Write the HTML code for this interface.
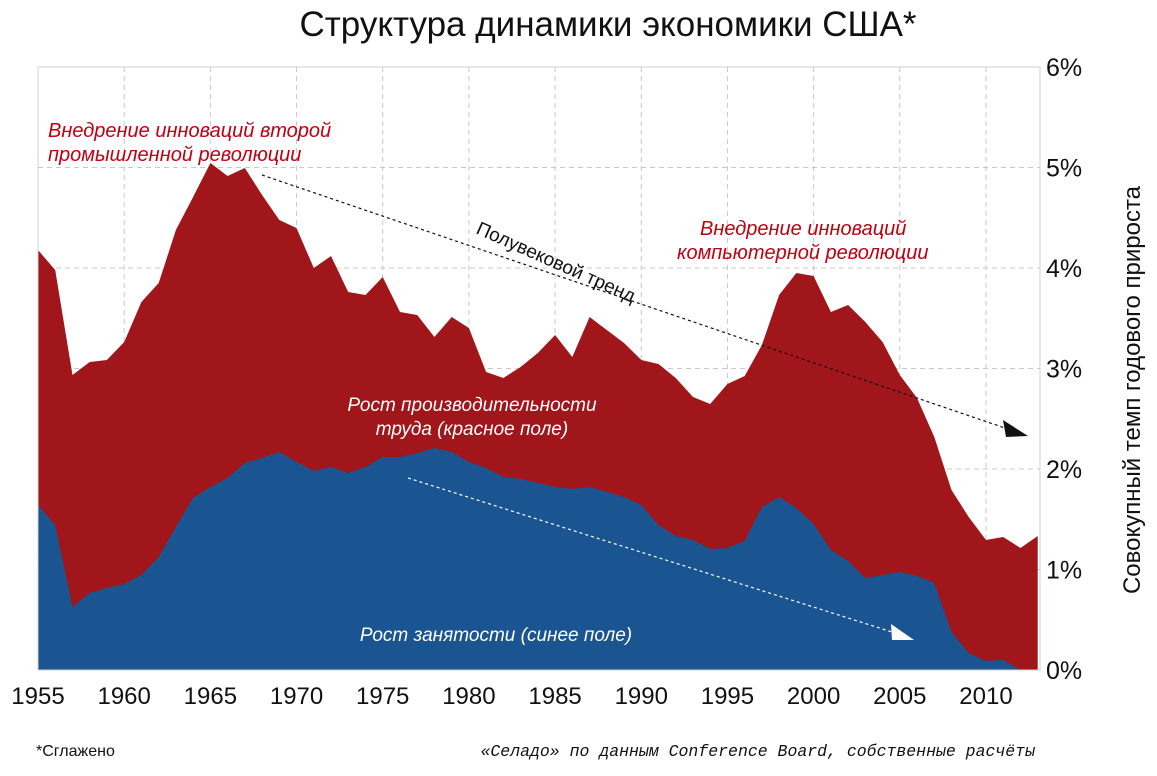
<!DOCTYPE html>
<html><head><meta charset="utf-8"><style>
html,body{margin:0;padding:0;background:#fff;}
svg text{font-family:"Liberation Sans","DejaVu Sans",sans-serif;}
</style></head><body>
<svg id="s" width="1157" height="771" xmlns="http://www.w3.org/2000/svg">
<g id="grid" stroke="#c8c8c8" stroke-width="1" stroke-dasharray="5,4" fill="none"></g>
<g id="areas"></g>
<rect x="38" y="67" width="1002" height="603" fill="none" stroke="#d0d0d0" stroke-width="1"/>
<text x="608" y="36" font-size="35" text-anchor="middle" fill="#111">Структура динамики экономики США*</text>
<g font-size="25" fill="#111" id="ylab"></g>
<g font-size="24" fill="#111" text-anchor="middle" id="xlab"></g>
<text x="1140" y="390" font-size="24" fill="#111" text-anchor="middle" transform="rotate(-90 1140 390)">Совокупный темп годового прироста</text>
<g font-style="italic" font-size="20" fill="#c00010">
<text x="48" y="137">Внедрение инноваций второй</text>
<text x="48" y="161">промышленной революции</text>
<text x="700" y="235">Внедрение инноваций</text>
<text x="677" y="259">компьютерной революции</text>
</g>
<g font-style="italic" font-size="19" fill="#fff">
<text x="472" y="411" text-anchor="middle">Рост производительности</text>
<text x="472" y="435" text-anchor="middle">труда (красное поле)</text>
<text x="496" y="641" text-anchor="middle">Рост занятости (синее поле)</text>
</g>
<text x="475" y="233" font-size="19" fill="#111" transform="rotate(24 475 233)">Полувековой тренд</text>
<line x1="262" y1="175" x2="1005" y2="428" stroke="#111" stroke-width="1.2" stroke-dasharray="3,3"/>
<polygon points="1028,436 1003,420 1006,437" fill="#111"/>
<line x1="408" y1="478" x2="892" y2="632" stroke="#fff" stroke-width="1.2" stroke-dasharray="3,3"/>
<polygon points="914,640 891,624 892,640" fill="#fff"/>
<text x="36" y="756" font-size="16" fill="#111">*Сглажено</text>
<text x="1035" y="756" font-size="16.5" font-style="italic" fill="#111" text-anchor="end" style="font-family:'Liberation Mono',monospace">«Селадо» по данным Conference Board, собственные расчёты</text>
</svg>
<script>
var red=[250,270,375,362,360,342,302,283,230,197,163,176,168,195,220,228,268,256,292,295,277,312,315,337,317,328,372,378,367,353,335,357,317,330,343,360,364,378,397,404,384,376,345,295,273,276,312,305,322,342,375,398,437,490,517,540,537,548,536];
var blue=[505,525,607,593,588,584,575,557,527,498,487,478,463,458,452,462,471,467,473,467,457,457,453,448,452,462,468,477,479,483,487,489,487,492,497,505,525,536,540,549,548,541,507,497,508,524,550,561,578,575,572,576,583,632,653,661,660,670,670];
function X(i){return 38+i*17.236;}
function pts(a){return a.map(function(y,i){return X(i).toFixed(1)+','+y;}).join(' ');}
var n=red.length,last=X(n-1).toFixed(1);
var ns='http://www.w3.org/2000/svg';
var A=document.getElementById('areas');
function poly(p,c){var e=document.createElementNS(ns,'polygon');e.setAttribute('points',p);e.setAttribute('fill',c);A.appendChild(e);}
poly('38,670 '+pts(red)+' '+last+',670','#a0161a');
poly('38,670 '+pts(blue)+' '+last+',670','#1a5592');
var G=document.getElementById('grid');
for(var k=1;k<6;k++){var l=document.createElementNS(ns,'line');var y=670-k*100.5;l.setAttribute('x1',38);l.setAttribute('x2',1040);l.setAttribute('y1',y);l.setAttribute('y2',y);G.appendChild(l);}
for(var yr=1960;yr<=2010;yr+=5){var l=document.createElementNS(ns,'line');var x=X(yr-1955);l.setAttribute('x1',x);l.setAttribute('x2',x);l.setAttribute('y1',67);l.setAttribute('y2',670);G.appendChild(l);}
var YL=document.getElementById('ylab');
for(var k=0;k<=6;k++){var t=document.createElementNS(ns,'text');t.setAttribute('x',1046);t.setAttribute('y',670-k*100.5+9);t.textContent=k+'%';YL.appendChild(t);}
var XL=document.getElementById('xlab');
for(var yr=1955;yr<=2010;yr+=5){var t=document.createElementNS(ns,'text');t.setAttribute('x',X(yr-1955));t.setAttribute('y',704);t.textContent=yr;XL.appendChild(t);}
</script>
</body></html>
